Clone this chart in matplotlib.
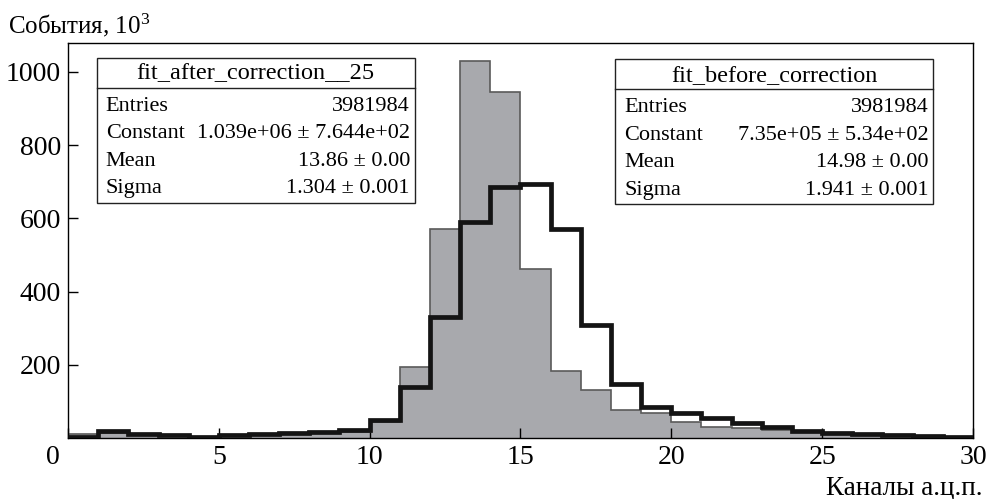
import matplotlib
matplotlib.use('Agg')
import matplotlib.pyplot as plt
from matplotlib.patches import Rectangle
from matplotlib.lines import Line2D
import matplotlib.transforms as mtransforms
import numpy as np

plt.rcParams['font.family'] = ['Liberation Serif', 'DejaVu Serif']
plt.rcParams['mathtext.fontset'] = 'custom'
plt.rcParams['mathtext.rm'] = 'Liberation Serif'

# границы бинов (каналы а.ц.п.)
edges = np.arange(0, 31)
# после коррекции (серая гистограмма), 10^3 событий
after = [12, 15, 10, 6, 3, 5, 8, 11, 14, 17, 45, 195, 572, 1030, 946,
         461, 184, 131, 76, 67, 44, 31, 26, 22, 17, 12, 10, 6, 4, 2]
# до коррекции (чёрная линия)
before = [3, 20, 12, 8, 4, 7, 10, 14, 17, 21, 49, 140, 331, 590, 686,
          695, 572, 308, 147, 85, 67, 54, 42, 31, 20, 15, 12, 8, 6, 3]

xticks = [0, 5, 10, 15, 20, 25, 30]
yticks = [200, 400, 600, 800, 1000]

stats_after_title = 'fit_after_correction__25'
stats_after = [('Entries', '3981984'),
               ('Constant', '1.039e+06 ± 7.644e+02'),
               ('Mean', '13.86 ± 0.00'),
               ('Sigma', '1.304 ± 0.001')]
stats_before_title = 'fit_before_correction'
stats_before = [('Entries', '3981984'),
                ('Constant', '7.35e+05 ± 5.34e+02'),
                ('Mean', '14.98 ± 0.00'),
                ('Sigma', '1.941 ± 0.001')]

W, H = 989, 499
fig = plt.figure(figsize=(W / 100, H / 100), dpi=100)
ax = fig.add_axes([68 / W, 1 - 438 / H, (973 - 68) / W, (438 - 42.7) / H])

ax.stairs(after, edges, fill=True, facecolor='#a8a9ad', edgecolor='none', zorder=1)
ax.stairs(after, edges, baseline=None, color='#5a5a5a', lw=1.2, zorder=2)
ax.stairs(before, edges, baseline=None, color='#141414', lw=3.4, zorder=3)

ax.set_xlim(0, 30)
ax.set_ylim(0, 1080)
ax.set_xticks(xticks)
ax.set_yticks(yticks)
ax.tick_params(direction='in', length=7, width=1, labelsize=20)
ax.tick_params(axis='x', pad=5)
ax.tick_params(axis='y', pad=5)
for s in ax.spines.values():
    s.set_linewidth(1)

# первая метка "0" сдвинута влево, как в ROOT
lab0 = ax.get_xticklabels()[0]
lab0.set_transform(lab0.get_transform() +
                   mtransforms.ScaledTranslation(-15 / 100, 0, fig.dpi_scale_trans))

fig.text(8 / W, 1 - 33 / H, 'События, $\\mathregular{10^3}$', fontsize=18, va='baseline')
fig.text(982 / W, 1 - 494 / H, 'Каналы а.ц.п.', fontsize=19.5, ha='right', va='baseline')


def stats_box(left, top, right, bottom, sep, title, rows):
    # рамка со статистикой в пикселях фигуры
    fx = lambda px: px / W
    fy = lambda py: 1 - py / H
    fig.add_artist(Rectangle((fx(left), fy(bottom)), fx(right) - fx(left),
                             fy(top) - fy(bottom), transform=fig.transFigure,
                             facecolor='white', edgecolor='#222', lw=1, zorder=5))
    fig.add_artist(Line2D([fx(left), fx(right)], [fy(sep), fy(sep)],
                          transform=fig.transFigure, color='#222', lw=1, zorder=6))
    fig.text(fx((left + right) / 2), fy((top + sep) / 2 + 1), title, fontsize=17.5,
             ha='center', va='center', zorder=7)
    for i, (name, val) in enumerate(rows):
        y = fy(sep + 18.5 + i * 27.5)
        fig.text(fx(left + 9), y, name, fontsize=16, ha='left', va='center', zorder=7)
        fig.text(fx(right - 5), y, val, fontsize=16, ha='right', va='center', zorder=7)


stats_box(96.7, 57.7, 415, 202.7, 87.7, stats_after_title, stats_after)
stats_box(615, 59.3, 933.3, 204.3, 89.3, stats_before_title, stats_before)

fig.savefig('out.png', dpi=100)
